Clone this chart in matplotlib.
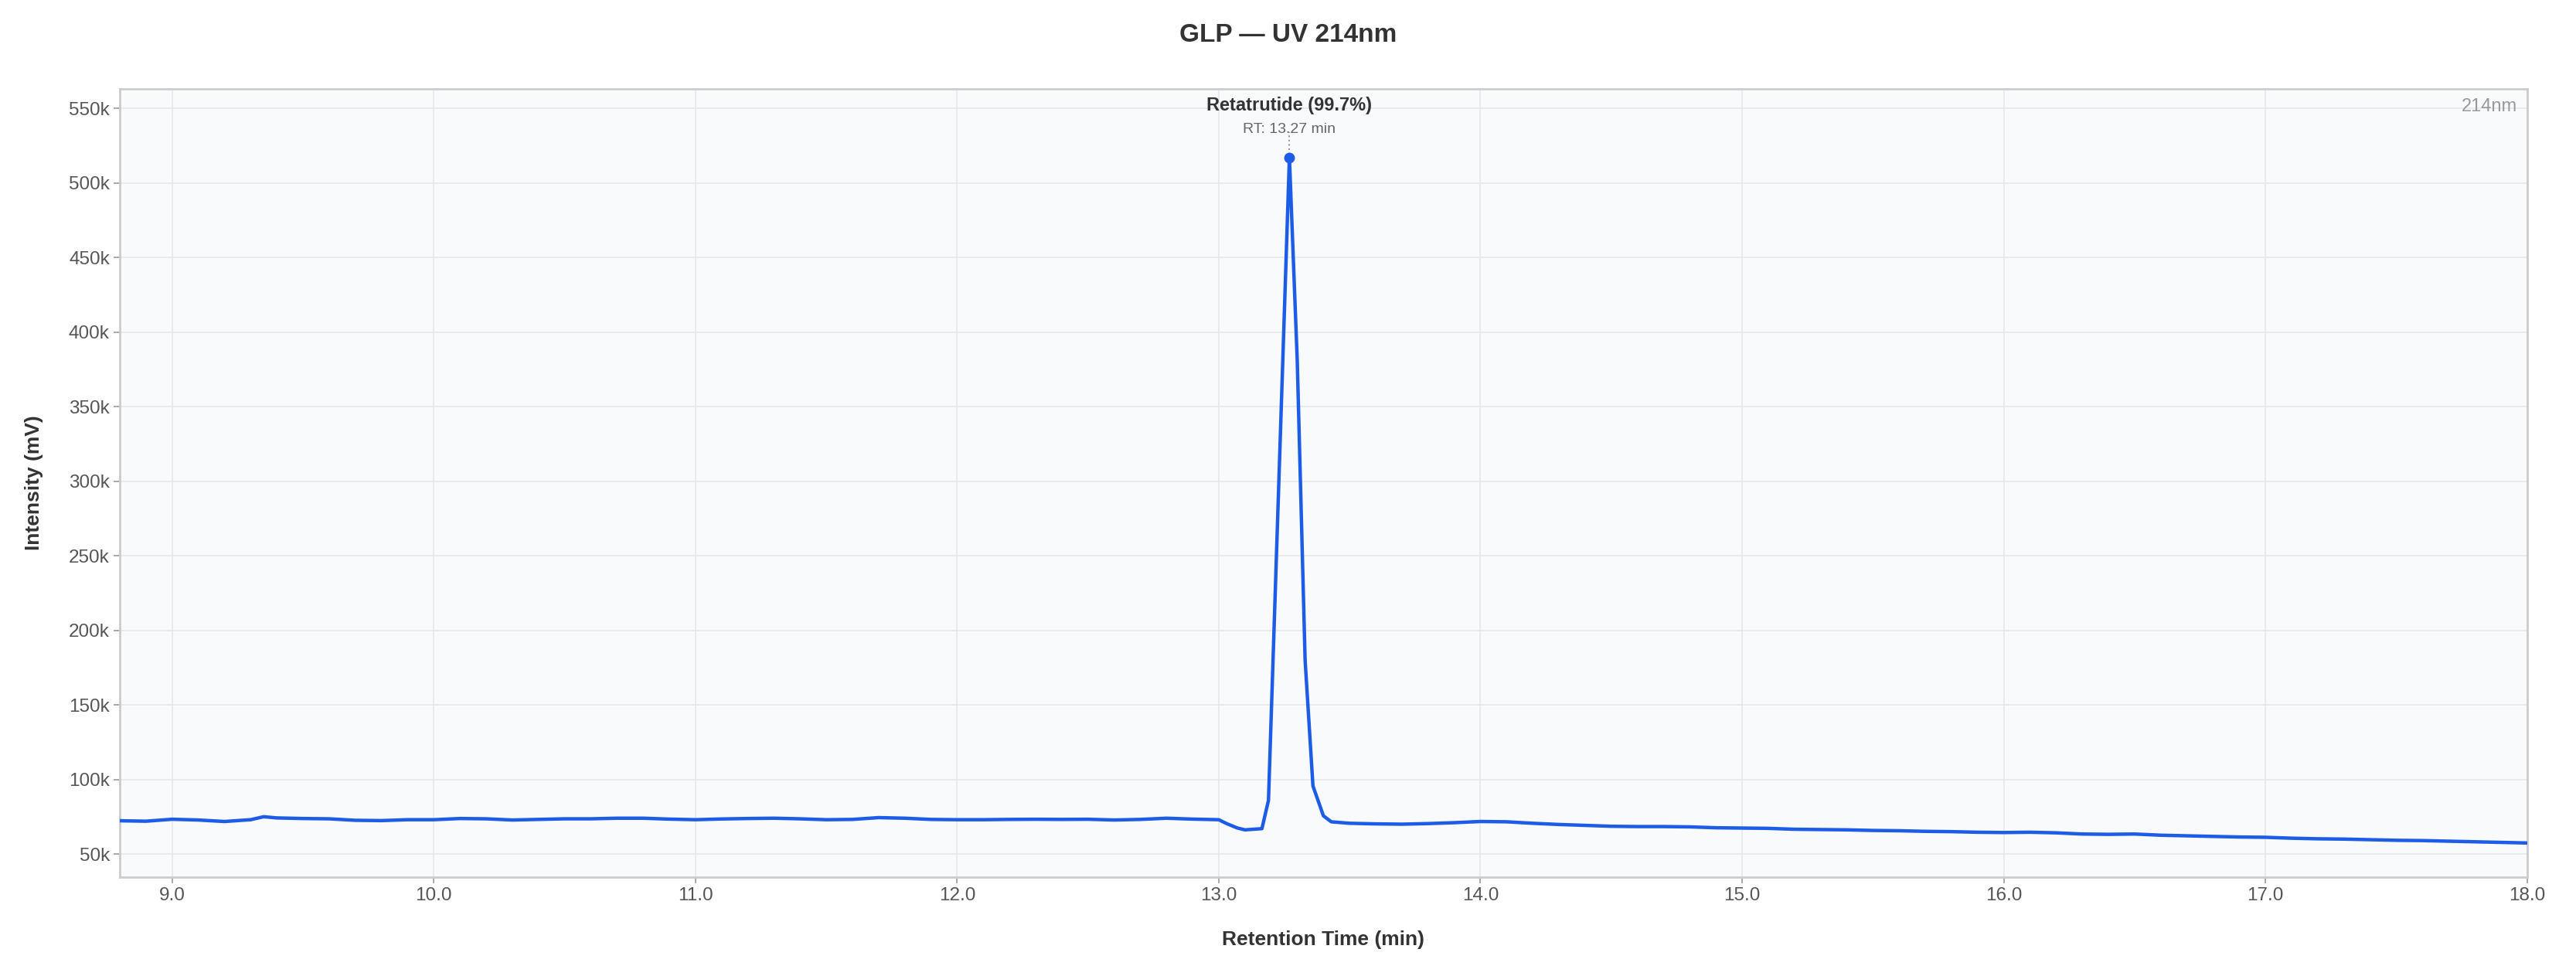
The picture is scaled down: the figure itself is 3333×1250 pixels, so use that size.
import numpy as np
import matplotlib.pyplot as plt

plt.rcParams['font.family'] = ['Liberation Sans', 'DejaVu Sans']

# retention time (min) and intensity (k mV)
rt = [8.8, 8.9, 9.0, 9.1, 9.2, 9.3, 9.35, 9.4, 9.5, 9.6, 9.7, 9.8, 9.9, 10.0,
      10.1, 10.2, 10.3, 10.4, 10.5, 10.6, 10.7, 10.8, 10.9, 11.0, 11.1, 11.2,
      11.3, 11.4, 11.5, 11.6, 11.7, 11.8, 11.9, 12.0, 12.1, 12.2, 12.3, 12.4,
      12.5, 12.6, 12.7, 12.8, 12.9, 13.0, 13.03, 13.07, 13.10, 13.165, 13.19,
      13.27, 13.30, 13.33, 13.36, 13.40, 13.43, 13.5, 13.6, 13.7, 13.8, 13.9,
      14.0, 14.1, 14.2, 14.3, 14.4, 14.5, 14.6, 14.7, 14.8, 14.9, 15.0, 15.1,
      15.2, 15.3, 15.4, 15.5, 15.6, 15.7, 15.8, 15.9, 16.0, 16.1, 16.2, 16.3,
      16.4, 16.5, 16.6, 16.7, 16.8, 16.9, 17.0, 17.1, 17.2, 17.3, 17.4, 17.5,
      17.6, 17.7, 17.8, 17.9, 18.0]
intensity = [72.3, 72.0, 73.3, 72.8, 71.8, 73.0, 75.0, 74.2, 73.8, 73.6, 72.6, 72.4, 73.0, 73.0,
             73.8, 73.6, 72.8, 73.2, 73.6, 73.6, 74.0, 74.0, 73.4, 73.0, 73.5, 73.8,
             74.0, 73.6, 73.0, 73.2, 74.4, 74.0, 73.2, 73.0, 73.0, 73.2, 73.3, 73.2,
             73.3, 72.8, 73.2, 74.0, 73.4, 73.0, 70.4, 67.5, 66.2, 67.0, 86.0,
             517.0, 380.7, 180.0, 95.6, 75.6, 71.6, 70.6, 70.2, 70.0, 70.4, 71.0,
             71.8, 71.6, 70.6, 69.8, 69.2, 68.6, 68.4, 68.4, 68.2, 67.6, 67.4, 67.2,
             66.6, 66.4, 66.2, 65.8, 65.6, 65.2, 65.0, 64.6, 64.4, 64.6, 64.2, 63.4,
             63.2, 63.4, 62.6, 62.2, 61.8, 61.4, 61.2, 60.6, 60.2, 60.0, 59.6, 59.2,
             59.0, 58.6, 58.2, 57.8, 57.4]
peak_rt = 13.27
peak_val = 517.0
peak_name = "Retatrutide (99.7%)"

fig = plt.figure(figsize=(33.33, 12.5), dpi=100)
ax = fig.add_axes([0.0465, 0.092, 0.9345, 0.816])
ax.set_facecolor('#f8fafc')

blue = '#1d5ce6'
ax.plot(rt, intensity, color=blue, lw=3.2, zorder=3)
ax.plot([peak_rt], [peak_val], 'o', color=blue, ms=9, zorder=4)
ax.plot([peak_rt, peak_rt], [peak_val + 5, 534], ls=':', color='#999999', lw=1.5)
ax.text(peak_rt, 552, peak_name, ha='center', va='center', fontsize=17,
        fontweight='bold', color='#333333')
ax.text(peak_rt, 536, "RT: 13.27 min", ha='center', va='center', fontsize=14, color='#666666')
ax.text(0.996, 0.988, "214nm", transform=ax.transAxes, ha='right', va='top',
        fontsize=17, color='#999999')

ax.set_xlim(8.8, 18.0)
ax.set_ylim(34.5, 563)
ax.set_xticks(np.arange(9, 18.01, 1.0))
ax.set_xticklabels([f"{v:.1f}" for v in np.arange(9, 18.01, 1.0)])
yt = np.arange(50, 551, 50)
ax.set_yticks(yt)
ax.set_yticklabels([f"{v}k" for v in yt])
ax.tick_params(labelsize=17.5, colors='#555555', length=6, width=1.2, color='#999999')
ax.grid(True, color='#e5e7eb', lw=1.2)
for s in ax.spines.values():
    s.set_color('#cccccc')
    s.set_linewidth(2)

ax.set_xlabel("Retention Time (min)", fontsize=19, fontweight='bold', color='#333333', labelpad=24)
ax.set_ylabel("Intensity (mV)", fontsize=19, fontweight='bold', color='#333333', labelpad=24)
fig.suptitle("GLP — UV 214nm", fontsize=24, fontweight='bold', color='#333333', y=0.976)

fig.savefig('out.png')
